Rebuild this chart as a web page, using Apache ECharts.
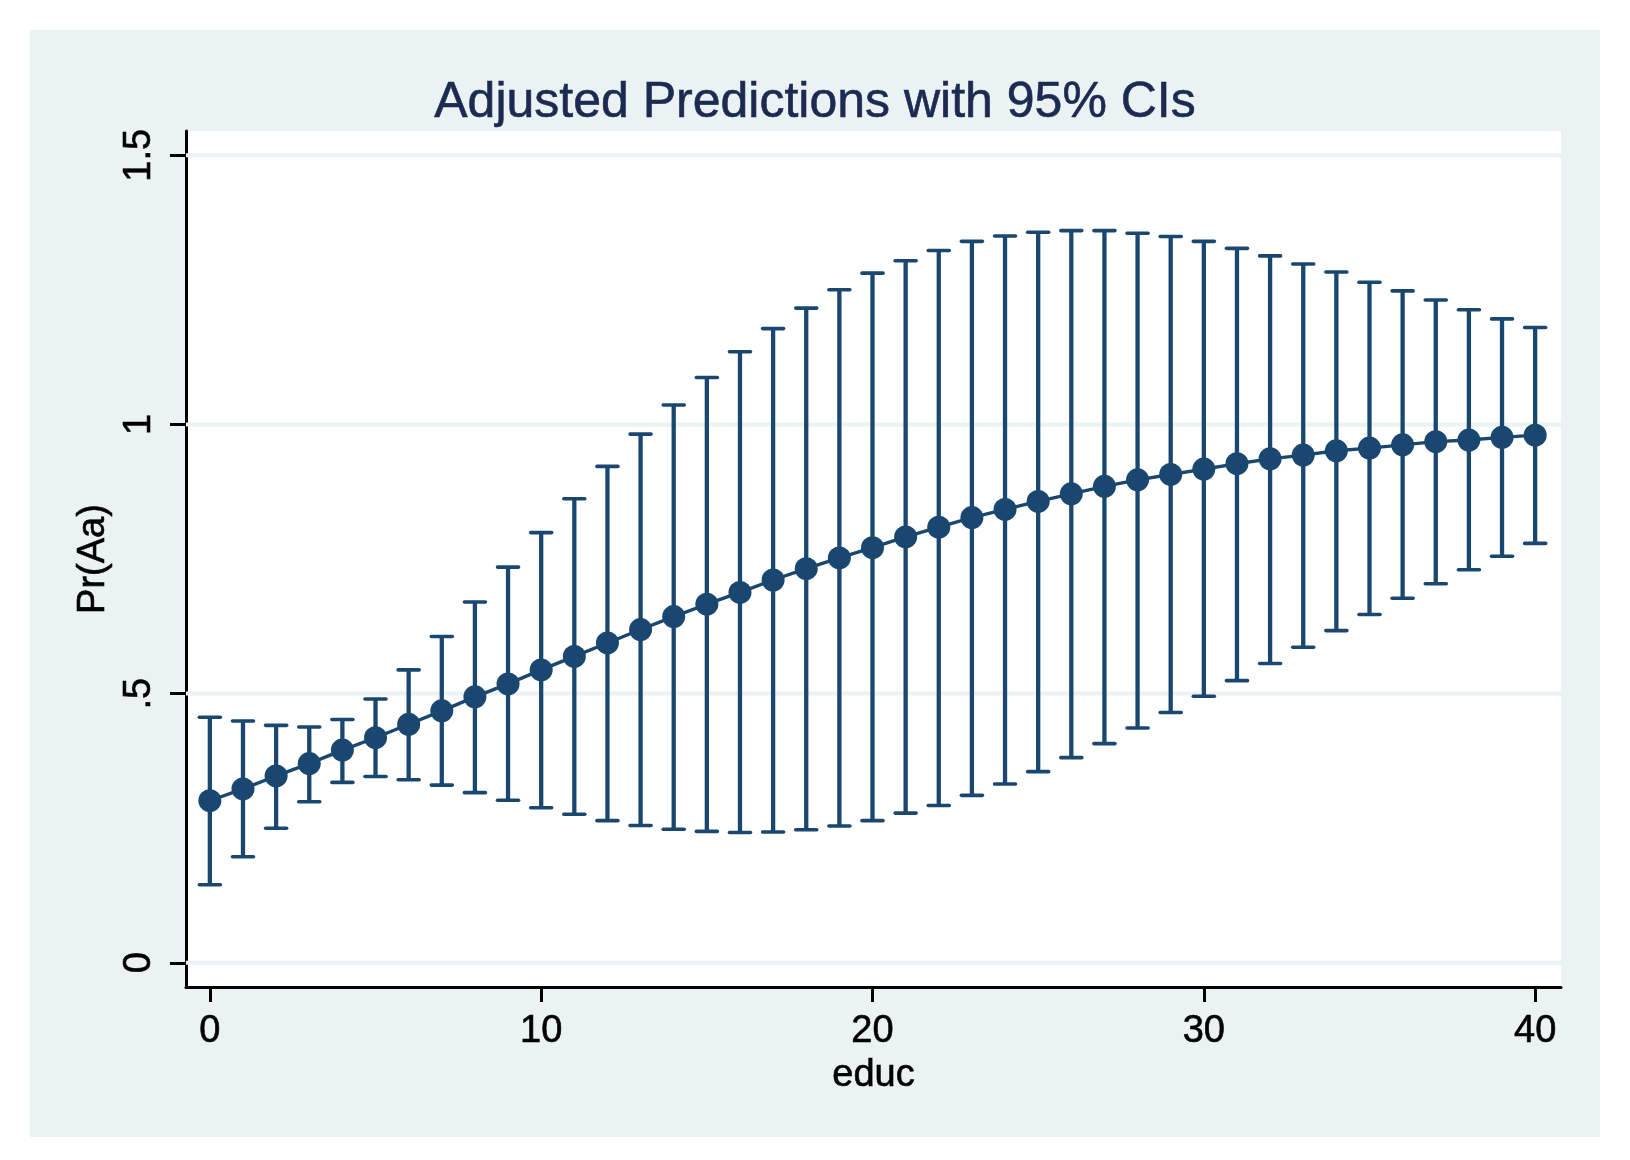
<!DOCTYPE html>
<html>
<head>
<meta charset="utf-8">
<script src="https://cdn.jsdelivr.net/npm/echarts@6/dist/echarts.min.js"></script>
<style>
html,body{margin:0;padding:0;background:#ffffff;}
#chart{width:1630px;height:1160px;}
</style>
</head>
<body>
<div id="chart"></div>
<script>
const educ = [0,1,2,3,4,5,6,7,8,9,10,11,12,13,14,15,16,17,18,19,20,21,22,23,24,25,26,27,28,29,30,31,32,33,34,35,36,37,38,39,40];
const margin = [0.301,0.323,0.347,0.370,0.395,0.418,0.443,0.468,0.494,0.518,0.544,0.569,0.594,0.619,0.643,0.666,0.688,0.711,0.732,0.752,0.771,0.791,0.809,0.827,0.842,0.857,0.871,0.885,0.897,0.907,0.917,0.927,0.936,0.943,0.951,0.956,0.962,0.968,0.971,0.976,0.980];
const ciLow = [0.145,0.197,0.250,0.299,0.335,0.346,0.340,0.330,0.316,0.302,0.288,0.276,0.264,0.255,0.248,0.244,0.242,0.243,0.247,0.254,0.264,0.278,0.292,0.311,0.332,0.355,0.381,0.407,0.436,0.465,0.495,0.524,0.556,0.586,0.617,0.647,0.677,0.704,0.730,0.755,0.779];
const ciHigh = [0.456,0.449,0.441,0.438,0.452,0.490,0.544,0.606,0.670,0.735,0.799,0.862,0.922,0.982,1.036,1.087,1.135,1.178,1.216,1.250,1.281,1.304,1.323,1.340,1.350,1.357,1.360,1.360,1.355,1.349,1.340,1.327,1.313,1.298,1.283,1.264,1.248,1.231,1.213,1.196,1.180];
const xTickValues = [0,10,20,30,40];
const yTickValues = [0,0.5,1,1.5];
const yTickLabels = ["0",".5","1","1.5"];

const navy = '#1a476f';
const bg = '#eaf2f3';
const font = '"Liberation Sans", Arial, Helvetica, sans-serif';
const txt = {fontFamily: font, fontSize: 38, color: '#000', textBorderColor: '#000', textBorderWidth: 0.6};

const chart = echarts.init(document.getElementById('chart'), null, {renderer:'canvas'});

const pointData = educ.map((x,i)=>[x, margin[i]]);
const ciData = educ.map((x,i)=>[x, ciLow[i], ciHigh[i]]);

chart.setOption({
  backgroundColor: '#ffffff',
  animation: false,
  graphic: [{
    type: 'rect', z: -10, silent: true,
    shape: {x: 30, y: 30, width: 1570, height: 1107},
    style: {fill: bg}
  }],
  title: {
    text: 'Adjusted Predictions with 95% CIs',
    left: 'center', top: 73,
    textStyle: {fontFamily: font, fontSize: 50, fontWeight: 'normal', color: '#1c2a52', lineHeight: 50,
      textBorderColor: '#1c2a52', textBorderWidth: 0.6}
  },
  grid: {
    left: 186, top: 131, width: 1375, height: 856,
    show: true, backgroundColor: '#ffffff', borderWidth: 0
  },
  xAxis: {
    type: 'value', min: -0.72, max: 40.78,
    name: 'educ', nameLocation: 'middle', nameGap: 64,
    nameTextStyle: txt,
    axisLine: {show: true, onZero: false, lineStyle: {color: '#000', width: 3}},
    axisTick: {show: true, length: 15, lineStyle: {color: '#000', width: 3}, customValues: xTickValues},
    axisLabel: Object.assign({margin: 26, customValues: xTickValues}, txt),
    splitLine: {show: false}
  },
  yAxis: {
    type: 'value', min: -0.045, max: 1.545,
    name: 'Pr(Aa)', nameLocation: 'middle', nameGap: 68, nameRotate: 90,
    nameTextStyle: txt,
    axisLine: {show: true, onZero: false, lineStyle: {color: '#000', width: 3}},
    axisTick: {show: true, length: 16, lineStyle: {color: '#000', width: 3}, customValues: yTickValues},
    axisLabel: Object.assign({
      margin: 27, rotate: 90,
      customValues: yTickValues,
      formatter: function(v){ const k = yTickValues.indexOf(v); return k >= 0 ? yTickLabels[k] : ''; }
    }, txt),
    splitLine: {show: false}
  },
  series: [
    {
      type: 'custom', z: 1, silent: true,
      data: yTickValues.map(v=>[0, v]),
      renderItem: function(params, api){
        const cs = params.coordSys;
        const y = api.coord([0, api.value(1)])[1];
        return {type: 'line', shape: {x1: cs.x, y1: y, x2: cs.x + cs.width, y2: y},
          style: {stroke: bg, lineWidth: 4}};
      }
    },
    {
      type: 'custom', z: 2, silent: true,
      data: ciData,
      renderItem: function(params, api){
        const lo = api.coord([api.value(0), api.value(1)]);
        const hi = api.coord([api.value(0), api.value(2)]);
        const hw = 10.5;
        return {type: 'group', children: [
          {type: 'line', shape: {x1: lo[0], y1: lo[1], x2: hi[0], y2: hi[1]}, style: {stroke: navy, lineWidth: 4.3}},
          {type: 'line', shape: {x1: lo[0]-hw, y1: lo[1], x2: lo[0]+hw, y2: lo[1]}, style: {stroke: navy, lineWidth: 3.6, lineCap: 'round'}},
          {type: 'line', shape: {x1: hi[0]-hw, y1: hi[1], x2: hi[0]+hw, y2: hi[1]}, style: {stroke: navy, lineWidth: 3.6, lineCap: 'round'}}
        ]};
      }
    },
    {
      type: 'line', z: 3, silent: true,
      data: pointData,
      symbol: 'circle', symbolSize: 23,
      itemStyle: {color: navy},
      lineStyle: {color: navy, width: 3.4}
    }
  ]
});
</script>
</body>
</html>
